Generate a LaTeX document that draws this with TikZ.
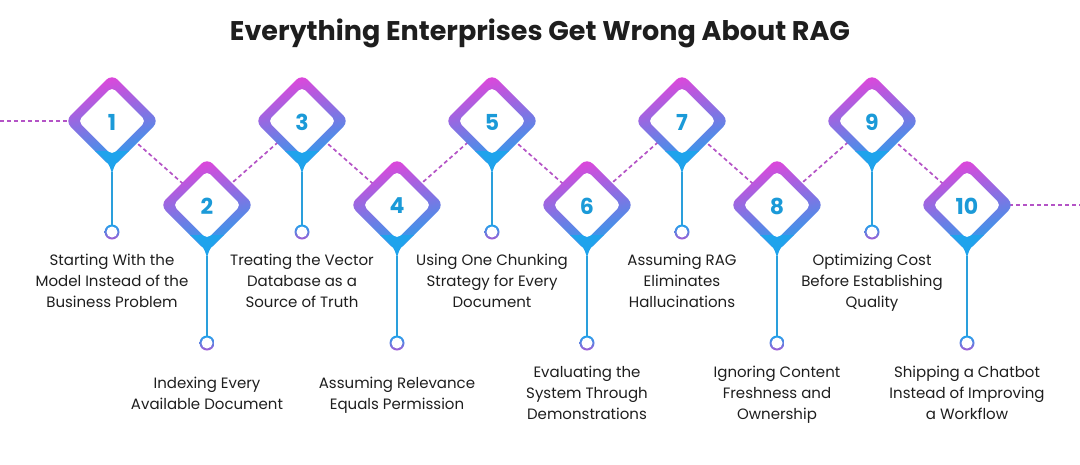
\documentclass[tikz,border=0pt]{standalone}
\usepackage{fontspec}
\setmainfont{Poppins}
\definecolor{mag}{HTML}{E543DA}
\definecolor{mid}{HTML}{8A66E0}
\definecolor{blu}{HTML}{1FA3EC}
\definecolor{stemc}{HTML}{2A9FDC}
\definecolor{dashc}{HTML}{B453C6}
\definecolor{numc}{HTML}{1B9AD8}
\definecolor{ringp}{HTML}{A45AD4}
\definecolor{txtc}{HTML}{1E1E1E}
\tikzset{
  dashline/.style={draw=dashc, line width=1.7pt, dash pattern=on 4pt off 3pt},
  stemline/.style={draw=stemc, line width=2pt},
  numstyle/.style={font=\bfseries\fontsize{22}{24}\selectfont, text=numc, inner sep=0pt},
  labeltext/.style={font=\fontsize{15}{21}\selectfont, text=txtc, align=center, inner sep=0pt, anchor=base},
  titlestyle/.style={font=\bfseries\fontsize{27}{30}\selectfont, text=txtc, inner sep=0pt},
}
\begin{document}
\begin{tikzpicture}[x=1pt,y=-1pt]
\useasboundingbox (0,0) rectangle (1080,464);
\node[titlestyle] (title) at (540,33) {Everything Enterprises Get Wrong About RAG};
% centres
\foreach \i/\x/\y in {1/112/121,2/207/205,3/302/121,4/397/205,5/492/121,6/587/205,7/682/121,8/777/205,9/872/121,10/967/205}
  \coordinate (c\i) at (\x,\y);
\coordinate (lend) at (0,121);
\coordinate (rend) at (1080,205);
% dashed connectors
\draw[dashline] (lend) -- (c1);
\foreach \a/\b in {1/2,2/3,3/4,4/5,5/6,6/7,7/8,8/9,9/10}
  \draw[dashline] (c\a) -- (c\b);
\draw[dashline] (c10) -- (rend);
% markers
\foreach \i/\x/\oy/\ty/\txt in {
  1/112/232/307/{Starting With the\\Model Instead of the\\Business Problem},
  2/207/343/409/{Indexing Every\\Available Document},
  3/302/232/307/{Treating the Vector\\Database as a\\Source of Truth},
  4/397/343/409/{Assuming Relevance\\Equals Permission},
  5/492/232/307/{Using One Chunking\\Strategy for Every\\Document},
  6/587/343/419/{Evaluating the\\System Through\\Demonstrations},
  7/682/232/307/{Assuming RAG\\Eliminates\\Hallucinations},
  8/777/343/419/{Ignoring Content\\Freshness and\\Ownership},
  9/872/232/307/{Optimizing Cost\\Before Establishing\\Quality},
  10/967/343/419/{Shipping a Chatbot\\Instead of Improving\\a Workflow}}
{
  \begin{scope}[shift={(c\i)}]
    \shade[top color=mag, middle color=mid, bottom color=blu, shading angle=15, rounded corners=8pt]
      (0,-47) -- (47,0) -- (0,47) -- (-47,0) -- cycle;
    \fill[blu] (-17,30) .. controls (-5,39) and (-2,44) .. (0,53)
               .. controls (2,44) and (5,39) .. (17,30) -- cycle;
    \fill[white, rounded corners=5pt] (0,-34) -- (34,0) -- (0,34) -- (-34,0) -- cycle;
    \node[numstyle] (n\i) at (0,1) {\i};
    \coordinate (p\i) at (0,51);
  \end{scope}
  \coordinate (o\i) at (\x,\oy);
  \draw[stemline] (p\i) -- ([yshift=7.5pt]o\i);
  \shade[top color=blu, bottom color=ringp] (o\i) circle[radius=7.5pt];
  \fill[white] (o\i) circle[radius=5.5pt];
  \node[labeltext] (t\i) at (\x,\ty) {\txt};
}
\end{tikzpicture}
\end{document}
